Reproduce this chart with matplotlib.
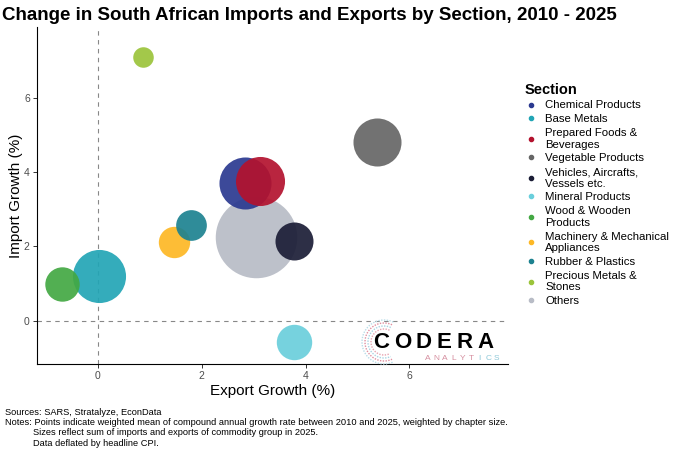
import numpy as np
import matplotlib.pyplot as plt
from matplotlib.lines import Line2D

plt.rcParams['font.family'] = ['Liberation Sans', 'DejaVu Sans']

# data
sections = ["Chemical Products", "Base Metals", "Prepared Foods &\nBeverages",
            "Vegetable Products", "Vehicles, Aircrafts,\nVessels etc.",
            "Mineral Products", "Wood & Wooden\nProducts",
            "Machinery & Mechanical\nAppliances", "Rubber & Plastics",
            "Precious Metals &\nStones", "Others"]
export_growth = [2.84, 0.02, 3.13, 5.37, 3.77, 3.78, -0.70, 1.47, 1.79, 0.86, 3.05]
import_growth = [3.72, 1.21, 3.76, 4.82, 2.15, -0.56, 0.99, 2.13, 2.57, 7.10, 2.26]
trade_size = [270, 281, 240, 230, 144, 125, 118, 98, 94, 42, 662]
colours = ["#2B3990", "#22A5B5", "#B3122E", "#666666", "#1B1D36", "#6ACFDC",
           "#43A843", "#FDB825", "#1D8290", "#9BC43A", "#B8BCC6"]

W, H = 680, 453
fig = plt.figure(figsize=(6.8, 4.53), dpi=100)
ax = fig.add_axes([0.054, 0.196, 0.693, 0.744])

ax.axhline(0, color="#888888", lw=0.8, ls=(0, (4, 4)), zorder=1)
ax.axvline(0, color="#888888", lw=0.8, ls=(0, (4, 4)), zorder=1)

# biggest bubbles drawn first
order = np.argsort(trade_size)[::-1]
for i in order:
    ax.scatter(export_growth[i], import_growth[i], s=trade_size[i] * 5.2,
               color=colours[i], alpha=0.92, linewidths=0, zorder=2)

ax.set_xlim(-1.18, 7.9)
ax.set_ylim(-1.17, 7.9)
ax.set_xticks([0, 2, 4, 6])
ax.set_yticks([0, 2, 4, 6])
for s in ["top", "right"]:
    ax.spines[s].set_visible(False)
for s in ["left", "bottom"]:
    ax.spines[s].set_linewidth(0.8)
ax.tick_params(labelsize=7.5, length=3, width=0.7, colors="#333333", pad=2)
ax.tick_params(labelcolor="#4D4D4D")
ax.set_xlabel("Export Growth (%)", fontsize=11, labelpad=2)
ax.set_ylabel("Import Growth (%)", fontsize=11, labelpad=1)

fig.text(0.003, 0.965, "Change in South African Imports and Exports by Section, 2010 - 2025",
         fontsize=13.5, fontweight="bold", va="center")

# legend
handles = [Line2D([], [], marker="o", ls="", markersize=3, color=c) for c in colours]
leg = fig.legend(handles, sections, loc="upper left", bbox_to_anchor=(0.756, 0.84),
                 frameon=False, fontsize=8.2, title="Section", title_fontsize=10.5,
                 handletextpad=0.62, labelspacing=0.33, handlelength=1.2,
                 alignment="left")
leg.get_title().set_fontweight("bold")

# logo (pixel positions turned into figure fractions)
def fx(px):
    return px / W

def fy(py):
    return 1 - py / H

th = np.linspace(np.radians(65), np.radians(295), 60)
for rad, col in [(13, "#E7A3B0"), (16, "#A8D3E2"), (19, "#E08F9F"), (22, "#B9DCE8")]:
    fig.lines.append(Line2D(fx(384 + rad * np.cos(th)), fy(342 - rad * np.sin(th)),
                            transform=fig.transFigure, color=col, lw=1.0,
                            ls=(0, (1, 1)), zorder=4))
for k, ch in enumerate("CODERA"):
    fig.text(fx(381.5 + k * 20.8), fy(342), ch, fontsize=16, fontweight="bold",
             ha="center", va="center", color="black", zorder=5)
for k, ch in enumerate("ANALYTICS"):
    col = "#D58E9F" if k < 6 else "#8EC8D8"
    fig.text(fx(428 + k * 8.6), fy(358.5), ch, fontsize=6,
             ha="center", va="center", color=col, zorder=5)

cap = 6.65
fig.text(0.007, 0.0898, "Sources: SARS, Stratalyze, EconData", fontsize=cap, va="center")
fig.text(0.007, 0.0671, "Notes: Points indicate weighted mean of compound annual growth rate between 2010 and 2025, weighted by chapter size.",
         fontsize=cap, va="center")
fig.text(0.049, 0.0450, "Sizes reflect sum of imports and exports of commodity group in 2025.",
         fontsize=cap, va="center")
fig.text(0.049, 0.0216, "Data deflated by headline CPI.", fontsize=cap, va="center")

fig.savefig("out.png", dpi=100)
